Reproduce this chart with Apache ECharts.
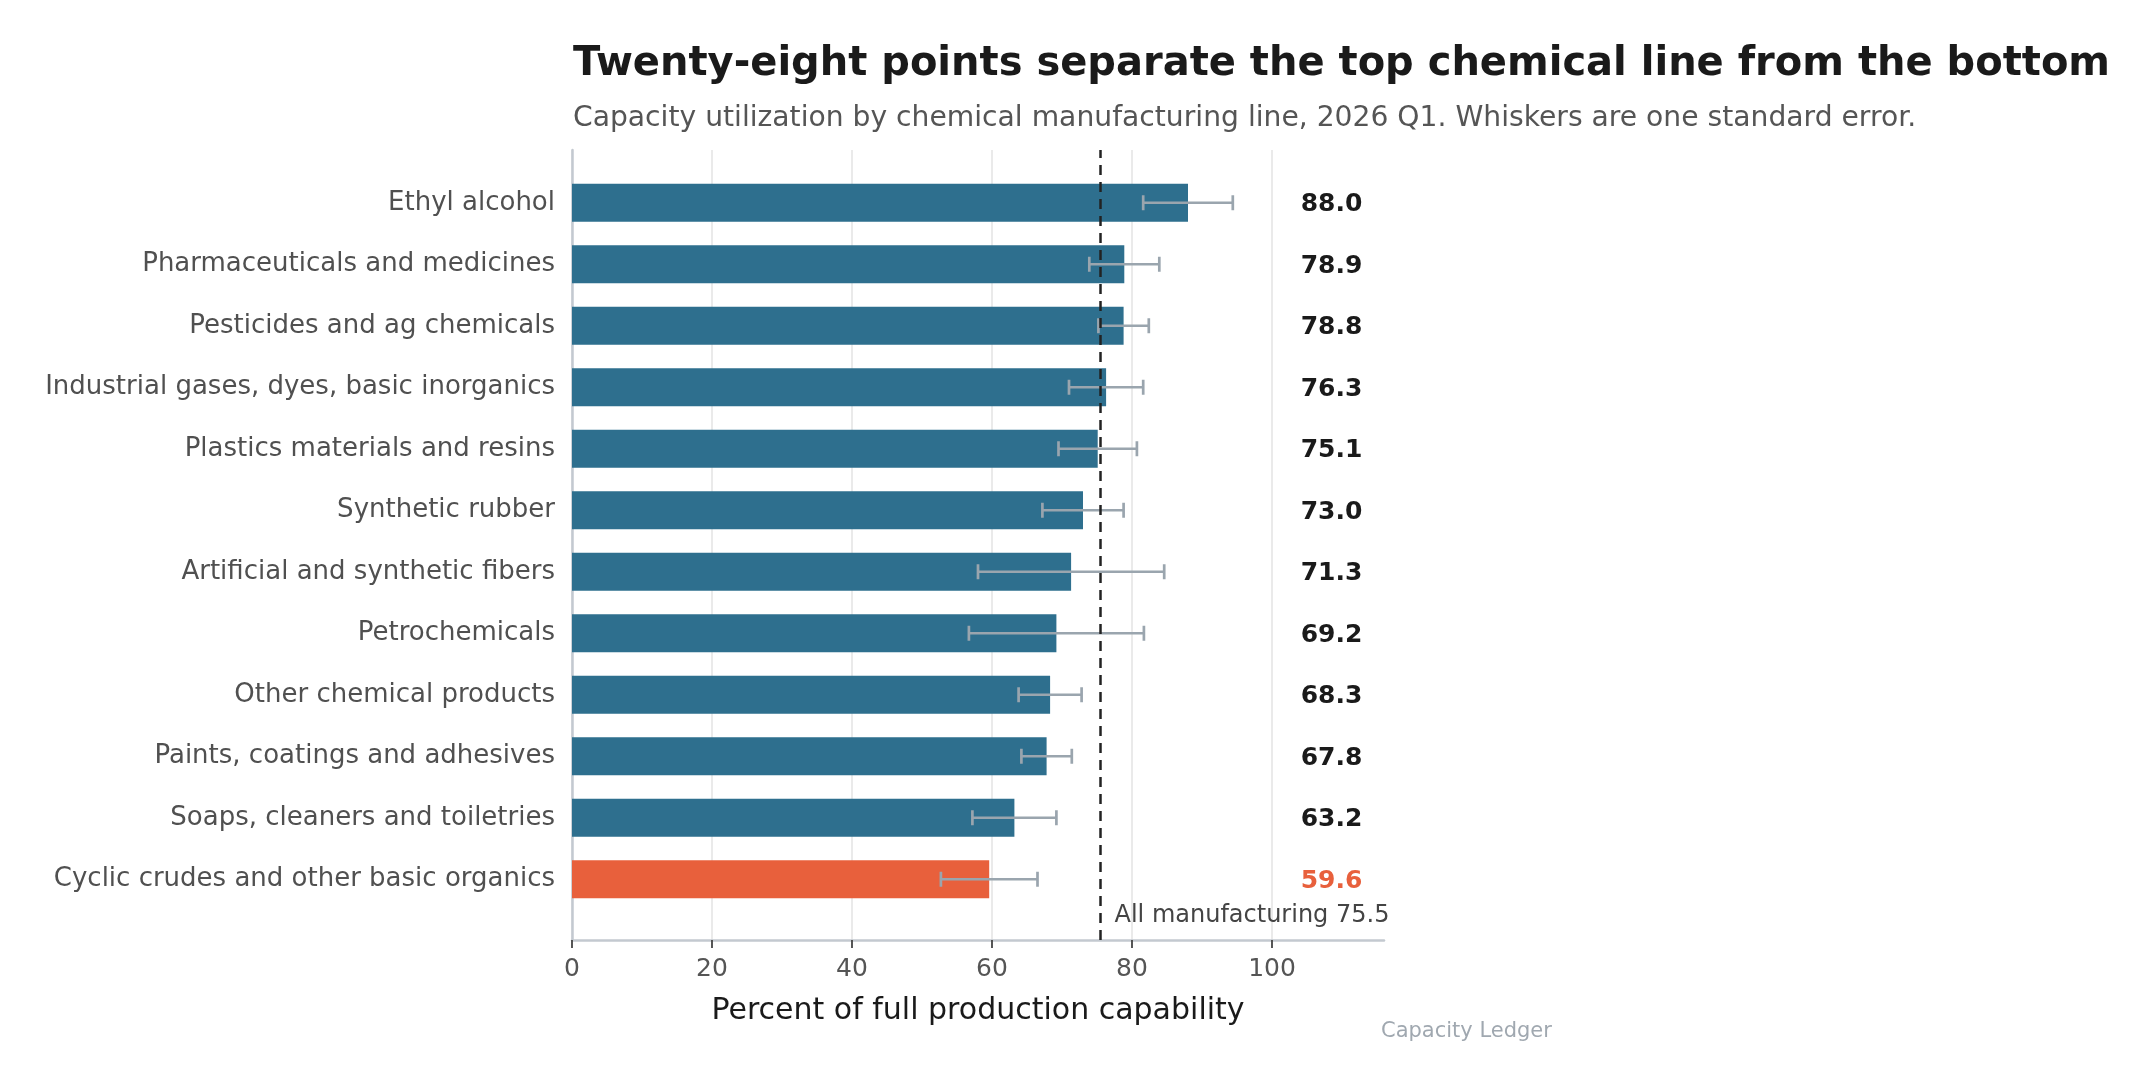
<!DOCTYPE html>
<html>
<head>
<meta charset="utf-8">
<title>Chemical capacity utilization</title>
<script src="https://cdn.jsdelivr.net/npm/echarts@6/dist/echarts.min.js"></script>
<style>
    html, body { margin: 0; padding: 0; background: #fff; }
    #chart { width: 2153px; height: 1089px; }
</style>
</head>
<body>
<div id="chart"></div>
<script>
// Data
// ------------------------------

var categories = [
    'Ethyl alcohol',
    'Pharmaceuticals and medicines',
    'Pesticides and ag chemicals',
    'Industrial gases, dyes, basic inorganics',
    'Plastics materials and resins',
    'Synthetic rubber',
    'Artificial and synthetic fibers',
    'Petrochemicals',
    'Other chemical products',
    'Paints, coatings and adhesives',
    'Soaps, cleaners and toiletries',
    'Cyclic crudes and other basic organics'
];
var utilization = [88.0, 78.9, 78.8, 76.3, 75.1, 73.0, 71.3, 69.2, 68.3, 67.8, 63.2, 59.6];
var stdError = [6.4, 5.0, 3.6, 5.3, 5.6, 5.8, 13.3, 12.5, 4.5, 3.6, 6.0, 6.9];
var allManufacturing = 75.5;
var xTicks = [0, 20, 40, 60, 80, 100];


// Setup
// ------------------------------

var BLUE = '#2e6f8e';
var ORANGE = '#e8603c';
var WHISKER = '#9aa5ae';
var FONT = '"DejaVu Sans", Verdana, sans-serif';
var X_MAX = 116;
var LABEL_X = 104.1;

var lowest = Math.min.apply(null, utilization);

var barData = utilization.map(function(v) {
    return { value: v, itemStyle: { color: v === lowest ? ORANGE : BLUE } };
});
var whiskerData = utilization.map(function(v, i) {
    return [i, v - stdError[i], v + stdError[i]];
});
var valueLabelData = utilization.map(function(v, i) {
    return { value: [LABEL_X, i], label: { color: v === lowest ? ORANGE : '#1a1a1a' } };
});

var renderWhisker = function(params, api) {
    var y = api.value(0);
    var p0 = api.coord([api.value(1), y]);
    var p1 = api.coord([api.value(2), y]);
    var cap = 7.5;
    var style = { stroke: WHISKER, lineWidth: 2.7 };
    return {
        type: 'group',
        children: [
            { type: 'line', shape: { x1: p0[0], y1: p0[1], x2: p1[0], y2: p1[1] }, style: style },
            { type: 'line', shape: { x1: p0[0], y1: p0[1] - cap, x2: p0[0], y2: p0[1] + cap }, style: style },
            { type: 'line', shape: { x1: p1[0], y1: p1[1] - cap, x2: p1[0], y2: p1[1] + cap }, style: style }
        ]
    };
};

var chart = echarts.init(document.getElementById('chart'));

chart.setOption({
    animation: false,
    textStyle: { fontFamily: FONT },

    title: [{
        text: 'Twenty-eight points separate the top chemical line from the bottom',
        left: 568,
        top: 40,
        textStyle: { fontSize: 40, fontWeight: 'bold', color: '#1a1a1a', fontFamily: FONT }
    }, {
        text: 'Capacity utilization by chemical manufacturing line, 2026 Q1. Whiskers are one standard error.',
        left: 568,
        top: 100,
        textStyle: { fontSize: 28.2, fontWeight: 'normal', color: '#555555', fontFamily: FONT }
    }],

    graphic: [{
        type: 'text',
        left: 1381,
        top: 1021,
        style: { text: 'Capacity Ledger', fontSize: 21, fill: '#a0a8b0', fontFamily: FONT }
    }],

    // grid 0 holds the bars, grid 1 holds the axes frame
    grid: [
        { left: 572, width: 812, top: 172, height: 738 },
        { left: 572, width: 812, top: 150, height: 790 }
    ],

    xAxis: [{
        gridIndex: 0,
        type: 'value',
        min: 0,
        max: X_MAX,
        show: false
    }, {
        gridIndex: 1,
        type: 'value',
        min: 0,
        max: X_MAX,
        interval: 20,
        name: 'Percent of full production capability',
        nameLocation: 'middle',
        nameGap: 56,
        nameTextStyle: { fontSize: 30, color: '#1a1a1a', fontFamily: FONT },
        axisLine: { show: true, lineStyle: { color: '#c3c9d0', width: 2.5 } },
        axisTick: { show: true, length: 8, customValues: xTicks, lineStyle: { color: '#444', width: 1.8 } },
        axisLabel: { customValues: xTicks, fontSize: 25, color: '#555555', margin: 17, fontFamily: FONT },
        splitLine: { show: true, lineStyle: { color: '#e3e3e3', width: 1.5 } }
    }],

    yAxis: [{
        gridIndex: 0,
        type: 'category',
        inverse: true,
        data: categories,
        axisLine: { show: false },
        axisTick: { show: false },
        axisLabel: { fontSize: 26, color: '#505050', margin: 17, padding: [4, 0, 0, 0], fontFamily: FONT }
    }, {
        gridIndex: 1,
        type: 'value',
        min: 0,
        max: 1,
        axisLine: { show: true, lineStyle: { color: '#c3c9d0', width: 2.5 } },
        axisTick: { show: false },
        axisLabel: { show: false },
        splitLine: { show: false }
    }],

    series: [{
        type: 'bar',
        xAxisIndex: 0,
        yAxisIndex: 0,
        barWidth: 38,
        z: 2,
        data: barData
    }, {
        type: 'custom',
        xAxisIndex: 0,
        yAxisIndex: 0,
        renderItem: renderWhisker,
        encode: { x: [1, 2], y: 0 },
        z: 4,
        data: whiskerData
    }, {
        type: 'scatter',
        xAxisIndex: 0,
        yAxisIndex: 0,
        symbolSize: 0,
        itemStyle: { opacity: 1 },
        label: {
            show: true,
            position: 'right',
            distance: 0,
            offset: [0, 2],
            fontSize: 25,
            fontWeight: 'bold',
            fontFamily: FONT,
            formatter: function(p) { return utilization[p.dataIndex].toFixed(1); }
        },
        data: valueLabelData
    }, {
        type: 'line',
        xAxisIndex: 1,
        yAxisIndex: 1,
        symbol: 'none',
        z: 5,
        lineStyle: { color: '#222', width: 2.5, type: [10, 7] },
        data: [[allManufacturing, 0], [allManufacturing, 1]]
    }, {
        type: 'scatter',
        xAxisIndex: 1,
        yAxisIndex: 1,
        symbolSize: 0,
        itemStyle: { opacity: 1 },
        label: {
            show: true,
            position: 'right',
            distance: 0,
            offset: [14, -24],
            fontSize: 24,
            color: '#444444',
            fontFamily: FONT,
            formatter: 'All manufacturing ' + allManufacturing.toFixed(1)
        },
        data: [[allManufacturing, 0]]
    }]
});
</script>
</body>
</html>
